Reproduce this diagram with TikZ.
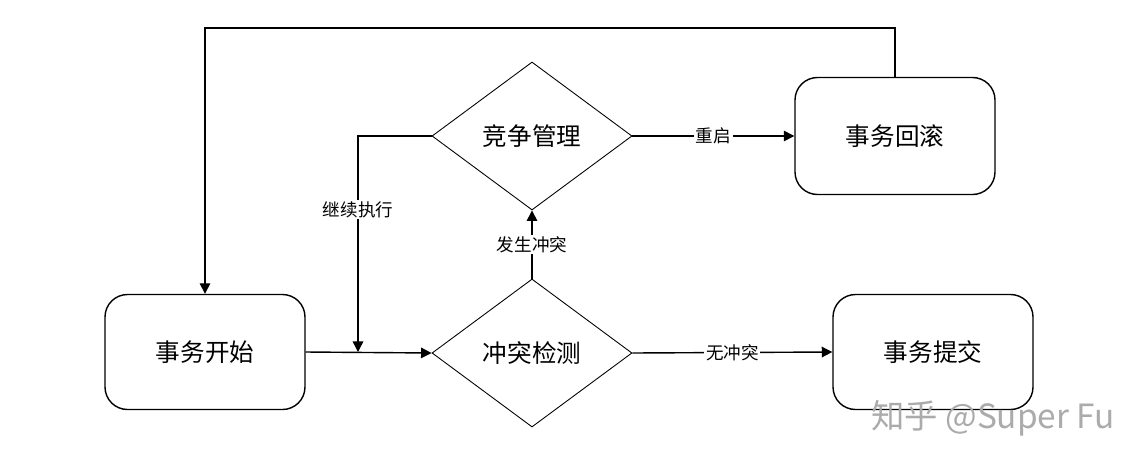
\documentclass[tikz,border=0pt]{standalone}
\usepackage{fontspec}
\setmainfont{Noto Sans CJK SC}
\usetikzlibrary{shapes.geometric,arrows.meta}

\begin{document}
\begin{tikzpicture}[>={Triangle[length=6pt,width=6pt]},
    box/.style={draw, line width=0.8pt, rounded corners=0.45cm, minimum width=4cm, minimum height=2.3cm, font=\fontsize{14}{16}\selectfont},
    decision/.style={draw, diamond, line width=0.5pt, inner sep=0pt, minimum width=4cm, minimum height=2.96cm, font=\fontsize{14}{16}\selectfont},
    link/.style={->, line width=0.8pt},
    tag/.style={fill=white, inner sep=1pt, font=\fontsize{10}{12}\selectfont}]
    % 1. Vùng hiển thị
    \useasboundingbox (0,0) rectangle (22.9,9.34);

    % 2. Các khối và hình thoi
    \node[box] (start) at (4.1, 2.3) {事务开始};
    \node[decision] (detect) at (10.64, 2.28) {冲突检测};
    \node[decision] (manage) at (10.64, 6.62) {竞争管理};
    \node[box, minimum height=2.34cm] (rollback) at (17.9, 6.62) {事务回滚};
    \node[box] (commit) at (18.66, 2.3) {事务提交};

    % 3. Điểm phụ
    \coordinate (join) at (7.16, 2.3);
    \coordinate (loop) at (0, 8.78);

    % 4. Các mũi tên
    \draw[link] (start.east) -- (detect.west);
    \draw[link] (manage.west) -| (join) node[tag, pos=0.67] {继续执行};
    \draw[link] (detect.north) -- (manage.south) node[tag, midway] {发生冲突};
    \draw[link] (manage.east) -- (rollback.west) node[tag, midway] {重启};
    \draw[link] (detect.east) -- (commit.west) node[tag, midway] {无冲突};
    \draw[link] (rollback.north) -- (rollback.north |- loop) -- (start.north |- loop) -- (start.north);

    % 5. Dấu nước
    \node[text=black!33, font=\fontsize{19}{22}\selectfont, anchor=west] (mark) at (17.3, 0.98) {知乎 @Super Fu};
\end{tikzpicture}
\end{document}
